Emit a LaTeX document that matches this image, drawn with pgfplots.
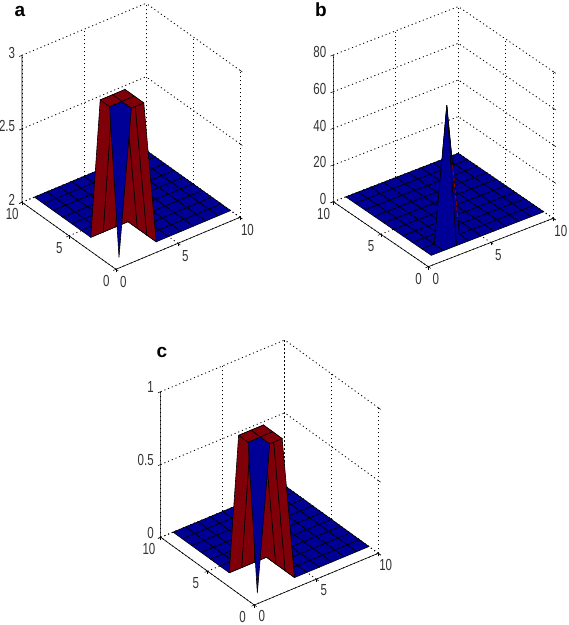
\documentclass[border=0pt]{standalone}
\usepackage{pgfplots}
\usepackage{fontspec}
\setmainfont{Liberation Sans}
\newfontfamily\tk[FakeStretch=0.72]{Liberation Sans}
\pgfplotsset{compat=1.18}
\definecolor{tkc}{gray}{0.2}
\pgfplotsset{
 panel/.style={
  anchor=origin, clip=false,
  xmin=0,xmax=10,ymin=0,ymax=10,
  xtick={0,5,10},ytick={0,5,10},
  grid=major,
  major grid style={black,line width=0.85pt,dash pattern=on 1.1pt off 2.9pt},
  axis line style={draw=none},
  tick style={black,line width=0.5pt},
  tickwidth=3pt,
  tick align=outside,
  tick pos=left,
  /pgf/number format/assume math mode=true,
  tick label style={font=\tk\fontsize{16}{16}\selectfont,text=tkc},
  xticklabel style={anchor=center,xshift=5pt,yshift=-11pt},
  yticklabel style={anchor=center,xshift=-7pt,yshift=-11pt},
  zticklabel style={anchor=east,xshift=-1pt,yshift=1pt},
  colormap={bd}{rgb255=(0,0,150) rgb255=(128,0,10)},
 },
 shell/.style={surf,shader=flat corner,draw=black,line width=0.6pt,z buffer=sort,mesh/cols=10},
}
\begin{document}
\begin{tikzpicture}[x=1pt,y=1pt]
\path[use as bounding box] (0,0) rectangle (569,625);
\node[font=\bfseries\fontsize{19}{19}\selectfont] at (20,614) {a};
\node[font=\bfseries\fontsize{19}{19}\selectfont] at (321,615) {b};
\node[font=\bfseries\fontsize{19}{19}\selectfont] at (162,273) {c};
\begin{axis}[panel,at={(116pt,355.7pt)},
 x={(12.4pt,5.2pt)},y={(-9.4pt,6.7pt)},z={(0pt,147pt)},
 zmin=2,zmax=3,ztick={2,2.5,3}]
\draw[black,line width=0.6pt] (axis cs:0,10,3)--(axis cs:0,10,2)--(axis cs:0,0,2)--(axis cs:10,0,2);
\addplot3[shell] coordinates {
(1,1,2)(2,1,2.98)(3,1,2.98)(4,1,2)(5,1,2)(6,1,2)(7,1,2)(8,1,2)(9,1,2)(10,1,2)
(1,2,2.98)(2,2,2.98)(3,2,2.98)(4,2,2)(5,2,2)(6,2,2)(7,2,2)(8,2,2)(9,2,2)(10,2,2)
(1,3,2.98)(2,3,2.98)(3,3,2.98)(4,3,2)(5,3,2)(6,3,2)(7,3,2)(8,3,2)(9,3,2)(10,3,2)
(1,4,2)(2,4,2)(3,4,2)(4,4,2)(5,4,2)(6,4,2)(7,4,2)(8,4,2)(9,4,2)(10,4,2)
(1,5,2)(2,5,2)(3,5,2)(4,5,2)(5,5,2)(6,5,2)(7,5,2)(8,5,2)(9,5,2)(10,5,2)
(1,6,2)(2,6,2)(3,6,2)(4,6,2)(5,6,2)(6,6,2)(7,6,2)(8,6,2)(9,6,2)(10,6,2)
(1,7,2)(2,7,2)(3,7,2)(4,7,2)(5,7,2)(6,7,2)(7,7,2)(8,7,2)(9,7,2)(10,7,2)
(1,8,2)(2,8,2)(3,8,2)(4,8,2)(5,8,2)(6,8,2)(7,8,2)(8,8,2)(9,8,2)(10,8,2)
(1,9,2)(2,9,2)(3,9,2)(4,9,2)(5,9,2)(6,9,2)(7,9,2)(8,9,2)(9,9,2)(10,9,2)
(1,10,2)(2,10,2)(3,10,2)(4,10,2)(5,10,2)(6,10,2)(7,10,2)(8,10,2)(9,10,2)(10,10,2)
};
\end{axis}
\begin{axis}[panel,at={(428.3pt,358.3pt)},
 x={(12.5pt,4.84pt)},y={(-9.5pt,6.5pt)},z={(0pt,1.8335pt)},
 zmin=0,zmax=80,ztick={0,20,40,60,80}]
\draw[black,line width=0.6pt] (axis cs:0,10,80)--(axis cs:0,10,0)--(axis cs:0,0,0)--(axis cs:10,0,0);
\addplot3[shell] coordinates {
(1,1,0)(2,1,0)(3,1,0)(4,1,0)(5,1,0)(6,1,0)(7,1,0)(8,1,0)(9,1,0)(10,1,0)
(1,2,0)(2,2,0)(3,2,73)(4,2,0)(5,2,0)(6,2,0)(7,2,0)(8,2,0)(9,2,0)(10,2,0)
(1,3,0)(2,3,0)(3,3,0)(4,3,0)(5,3,0)(6,3,0)(7,3,0)(8,3,0)(9,3,0)(10,3,0)
(1,4,0)(2,4,0)(3,4,0)(4,4,0)(5,4,0)(6,4,0)(7,4,0)(8,4,0)(9,4,0)(10,4,0)
(1,5,0)(2,5,0)(3,5,0)(4,5,0)(5,5,0)(6,5,0)(7,5,0)(8,5,0)(9,5,0)(10,5,0)
(1,6,0)(2,6,0)(3,6,0)(4,6,0)(5,6,0)(6,6,0)(7,6,0)(8,6,0)(9,6,0)(10,6,0)
(1,7,0)(2,7,0)(3,7,0)(4,7,0)(5,7,0)(6,7,0)(7,7,0)(8,7,0)(9,7,0)(10,7,0)
(1,8,0)(2,8,0)(3,8,0)(4,8,0)(5,8,0)(6,8,0)(7,8,0)(8,8,0)(9,8,0)(10,8,0)
(1,9,0)(2,9,0)(3,9,0)(4,9,0)(5,9,0)(6,9,0)(7,9,0)(8,9,0)(9,9,0)(10,9,0)
(1,10,0)(2,10,0)(3,10,0)(4,10,0)(5,10,0)(6,10,0)(7,10,0)(8,10,0)(9,10,0)(10,10,0)
};
\addplot3[no marks,color=red!65!black,line width=0.8pt,dash pattern=on 4pt off 2pt] coordinates {(3.465,2,39)(3.89,2,8)};
\end{axis}
\begin{axis}[panel,at={(254.3pt,20pt)},
 x={(12.4pt,5.17pt)},y={(-9.36pt,6.77pt)},z={(0pt,145.6pt)},
 zmin=0,zmax=1,ztick={0,0.5,1},
 xticklabel style={yshift=1.5pt},yticklabel style={xshift=-2pt},zticklabel style={yshift=1.5pt}]
\draw[black,line width=0.6pt] (axis cs:0,10,1)--(axis cs:0,10,0)--(axis cs:0,0,0)--(axis cs:10,0,0);
\addplot3[shell] coordinates {
(1,1,0)(2,1,0.99)(3,1,0.99)(4,1,0)(5,1,0)(6,1,0)(7,1,0)(8,1,0)(9,1,0)(10,1,0)
(1,2,0.99)(2,2,0.99)(3,2,0.99)(4,2,0)(5,2,0)(6,2,0)(7,2,0)(8,2,0)(9,2,0)(10,2,0)
(1,3,0.99)(2,3,0.99)(3,3,0.99)(4,3,0)(5,3,0)(6,3,0)(7,3,0)(8,3,0)(9,3,0)(10,3,0)
(1,4,0)(2,4,0)(3,4,0)(4,4,0)(5,4,0)(6,4,0)(7,4,0)(8,4,0)(9,4,0)(10,4,0)
(1,5,0)(2,5,0)(3,5,0)(4,5,0)(5,5,0)(6,5,0)(7,5,0)(8,5,0)(9,5,0)(10,5,0)
(1,6,0)(2,6,0)(3,6,0)(4,6,0)(5,6,0)(6,6,0)(7,6,0)(8,6,0)(9,6,0)(10,6,0)
(1,7,0)(2,7,0)(3,7,0)(4,7,0)(5,7,0)(6,7,0)(7,7,0)(8,7,0)(9,7,0)(10,7,0)
(1,8,0)(2,8,0)(3,8,0)(4,8,0)(5,8,0)(6,8,0)(7,8,0)(8,8,0)(9,8,0)(10,8,0)
(1,9,0)(2,9,0)(3,9,0)(4,9,0)(5,9,0)(6,9,0)(7,9,0)(8,9,0)(9,9,0)(10,9,0)
(1,10,0)(2,10,0)(3,10,0)(4,10,0)(5,10,0)(6,10,0)(7,10,0)(8,10,0)(9,10,0)(10,10,0)
};
\end{axis}
\end{tikzpicture}
\end{document}
